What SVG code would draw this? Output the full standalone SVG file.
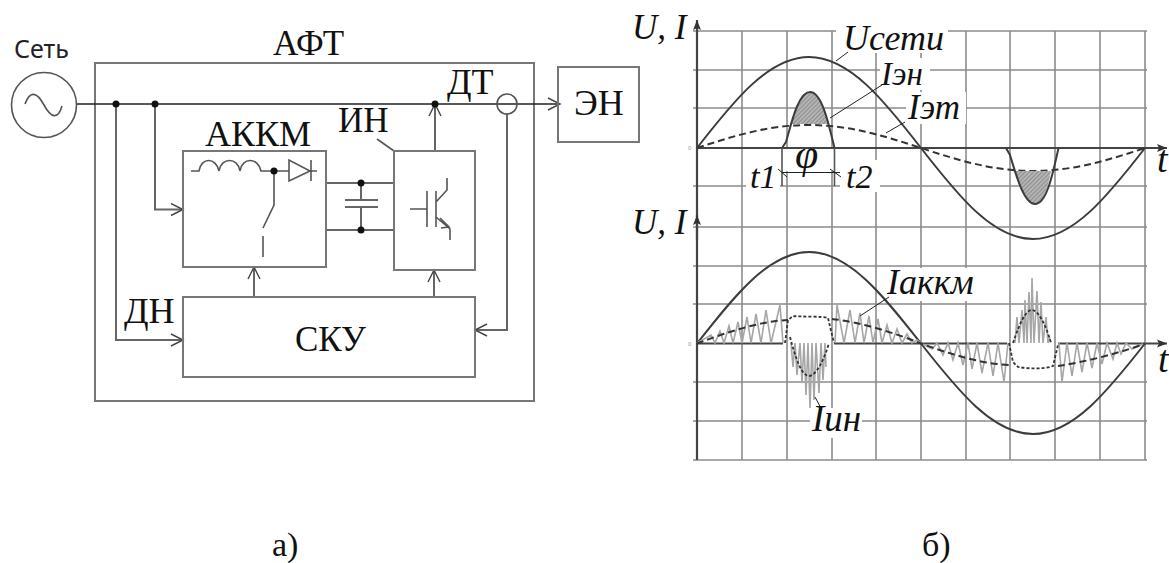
<svg xmlns="http://www.w3.org/2000/svg" width="1169" height="563" viewBox="0 0 1169 563">
<style>
.b{fill:none;stroke:#777;stroke-width:2}
.w{fill:none;stroke:#666;stroke-width:2}
.d{fill:none;stroke:#222;stroke-width:1.6}
.c{fill:none;stroke:#555;stroke-width:1.6}
.g{fill:none;stroke:#8c8c8c;stroke-width:1.6}
.cv{fill:none;stroke:#3c3c3c;stroke-width:2}
.ax{fill:none;stroke:#444;stroke-width:2.2}
.tri{fill:none;stroke:#a6a6a6;stroke-width:1.6}
.ds{fill:none;stroke:#333;stroke-width:2;stroke-dasharray:7 4}
.dt{fill:none;stroke:#333;stroke-width:1.8;stroke-dasharray:3 2}
.ln{fill:none;stroke:#222;stroke-width:1}
.dot{fill:#111}
.t{font-family:"Liberation Serif","Times New Roman",serif;fill:#111}
.i{font-family:"Liberation Serif","Times New Roman",serif;font-style:italic;fill:#111}
.m{fill:#fff}
</style>
<defs>
<marker id="a" markerUnits="userSpaceOnUse" markerWidth="16" markerHeight="16" refX="13" refY="7" orient="auto"><path d="M1 1L13 7L1 13" fill="none" stroke="#444" stroke-width="1.4"/></marker>
<marker id="f" markerUnits="userSpaceOnUse" markerWidth="12" markerHeight="10" refX="10" refY="5" orient="auto"><path d="M0 1L10 5L0 9L2 5Z" fill="#333"/></marker>
<pattern id="h" patternUnits="userSpaceOnUse" width="3" height="3" patternTransform="rotate(45)"><rect width="3" height="3" fill="#b4b4b4"/><rect width="1" height="3" fill="#8e8e8e"/></pattern>
</defs>
<rect width="1169" height="563" fill="#fff"/>

<g id="node-aft"><rect class="b" x="95" y="63" width="439" height="338"/><text class="t" x="273" y="55" font-size="35">АФТ</text></g>

<g id="connectors">
<path class="d" d="M77 104H435M435 104H560" marker-end="url(#a)"/>
<path class="w" d="M116 104V340H183" marker-end="url(#a)"/>
<path class="w" d="M155 104V209.500H183" marker-end="url(#a)"/>
<path class="w" d="M435 151V104" marker-end="url(#a)"/>
<path class="w" d="M254 297V267" marker-end="url(#a)"/>
<path class="w" d="M434 297V270" marker-end="url(#a)"/>
<path class="w" d="M507 114V330H475" marker-end="url(#a)"/>
<path class="w" d="M326 183H394M326 230H394M361 183V200M361 207V230"/>
<path class="w" d="M345 200H378M345 207H378"/>
<path class="c" d="M377 139L394 151"/>
<circle class="dot" cx="116" cy="104" r="3.500"/><circle class="dot" cx="155" cy="104" r="3.500"/><circle class="dot" cx="435" cy="104" r="3.500"/>
<circle class="dot" cx="361" cy="183" r="3.500"/><circle class="dot" cx="361" cy="230" r="3.500"/>
</g>

<g id="node-grid"><circle class="c" cx="44" cy="105" r="32.500" fill="#fff"/><path class="c" d="M25 104C30 90 37 92 44 105C51 118 58 120 62 106"/><text x="14" y="58" font-family="Noto Sans,Open Sans,sans-serif" font-size="25" fill="#222">Сеть</text></g>

<g id="node-akkm"><rect class="b" x="183" y="151" width="143" height="116"/><text class="t" x="205" y="146" font-size="36">АККМ</text>
<path class="c" d="M191 171H199C201 157 216 157 219 171C221 157 238 157 240 171C242 157 258 157 261 171H289M289 160V181L310 171ZM310 171H317M311 160V181M274 171V205L263 228M263 236V257"/><circle class="dot" cx="274" cy="171" r="3.500"/></g>

<g id="node-in"><rect class="b" x="394" y="151" width="81" height="119"/><text class="t" x="338" y="132" font-size="35">ИН</text>
<path class="c" d="M410 209H427M427 191V227M436 191V227M436 202L447 190V178M436 217L450 229V240M440 218L449 227L441 228"/></g>

<g id="node-sku"><rect class="b" x="183" y="297" width="292" height="80"/><text class="t" x="295" y="351" font-size="35">СКУ</text></g>
<g id="node-dn"><text class="t" x="124" y="323" font-size="36">ДН</text></g>
<g id="node-dt"><circle class="c" cx="507" cy="104" r="10"/><text class="t" x="447" y="94" font-size="36">ДТ</text></g>
<g id="node-en"><rect class="b" x="558" y="67" width="81" height="75"/><text class="t" x="574" y="115" font-size="36">ЭН</text></g>

<g id="plot">
<path class="g" d="M742 31V460M787 31V460M832 31V460M876 31V460M921 31V460M966 31V460M1010 31V460M1055 31V460M1100 31V460M1145 31V460"/>
<path class="g" d="M693 31H1147M693 70H1147M693 108H1147M693 186H1147M693 227H1147M693 266H1147M693 304H1147M693 382H1147M693 421H1147M693 460H1147"/>
<rect class="m" x="836" y="22" width="112" height="31"/><rect class="m" x="880" y="58" width="50" height="32"/><rect class="m" x="906" y="92" width="60" height="32"/>
<rect class="m" x="746" y="160" width="34" height="32"/><rect class="m" x="840" y="160" width="40" height="32"/>
<rect class="m" x="784" y="149" width="50" height="22"/><rect class="m" x="630" y="205" width="60" height="35"/>
<rect class="m" x="888" y="268" width="88" height="33"/><rect class="m" x="810" y="408" width="52" height="30"/>
<path class="ax" d="M697 460V20" marker-end="url(#f)"/><path class="ax" d="M697 240V215" marker-end="url(#f)"/>
<path class="ax" d="M697 148H1167" marker-end="url(#f)"/>
<path class="cv" d="M697 148C733.500 101 768.500 57 809 57C849.500 57 884.500 101 921 148C957.500 195 992.500 239 1033 239C1073.500 239 1108.500 195 1145 148"/>
<path class="ds" d="M697 148C733.500 136 768.500 125 809 125C849.500 125 884.500 136 921 148C957.500 160 992.500 171 1033 171C1073.500 171 1108.500 160 1145 148"/>
<path d="M791 124C796 107 802 92 810 92C818 92 824 107 829 124Z" fill="url(#h)"/>
<path d="M1015 171C1020 187 1027 204 1035 204C1043 204 1048 187 1051 171Z" fill="url(#h)"/>
<path class="cv" d="M782 148L786 142C791 125 798 92 810 92C822 92 829 125 834.500 148M1006 148L1010 155C1016 175 1024 204 1035 204C1046 204 1052 178 1058.500 148"/>
<path class="c" d="M782 148V186M834.500 148V186"/>
<path class="ln" d="M782 172.500H840M778 169L787 177M830 169L841 177M830 118L882 85M886 133L905 122M836 61L848 52"/>
<path class="ax" d="M697 343.500H783M834 343.500H1007M1058 343.500H1167" marker-end="url(#f)"/>
<path class="cv" d="M697 343.500C733.500 297 768.500 252 809 252C849.500 252 884.500 297 921 343.500C957.500 390 992.500 434 1033 434C1073.500 434 1108.500 390 1145 343.500"/>
<path class="tri" d="M697 343L711 335L715 343L720 331L724 343L729 326L733 343L738 322L742 343L747 317L751 343L756 314L761 343L766 310L771 343L780 305L783 343M835 343L837 305L844 343L850 310L855 343L860 313L864 343L869 316L873 343L878 319L882 343L887 325L892 343L897 329L902 343L907 334L912 343L917 340L921 343L932 349L937 343L943 355L948 343L953 360L958 343L963 365L968 343L972 369L977 343L982 373L988 343L993 376L998 343L1004 382L1008 343M1059 343L1062 382L1067 343L1072 376L1077 343L1082 372L1087 343L1092 368L1097 343L1102 364L1107 343L1113 359L1117 343L1121 354L1126 343L1132 349L1145 343"/>
<path class="tri" d="M791 343L793 367L795 343L797 375L800 343L802 383L804 343L806 395L808 343L810 408L812 343L814 400L816 343L819 393L821 343L823 380L825 343L826 367M1015 343L1017 317L1019 343L1022 310L1024 343L1025 300L1027 343L1029 292L1031 343L1032 278L1034 343L1037 291L1039 343L1041 302L1043 343L1046 317L1048 343L1050 337"/>
<path class="ds" stroke-dasharray="6 3" d="M697 343.500C725 333 760 321 788 320M832 319C860 322 895 333 921 343.500C950 354 985 365 1012 365M1058 366C1085 362 1120 353 1145 343.500"/>
<path class="dt" d="M785 343L788 320L793 316C802 317 822 316 828 318L834 343M1009 343L1013 362L1018 367C1030 369 1045 369 1053 366L1058 345"/>
<path class="dt" d="M790 337C796 360 802 376 809 376C816 376 824 360 829 343M1013 343C1020 322 1026 310 1032 310C1038 310 1046 325 1051 343"/>
<path class="ln" d="M860 316L889 297M815 397L822 410"/>
<text class="i" x="632" y="39" font-size="35">U, I</text>
<text class="i" x="843" y="50" font-size="36">Uсети</text>
<text class="i" x="881" y="85" font-size="33">Iэн</text>
<text class="i" x="908" y="119" font-size="35">Iэт</text>
<text class="i" x="795" y="168" font-size="42">φ</text>
<text class="i" x="750" y="188" font-size="34">t1</text>
<text class="i" x="846" y="188" font-size="34">t2</text>
<text class="i" x="1157" y="172" font-size="38">t</text>
<text class="i" x="632" y="234" font-size="35">U, I</text>
<text class="i" x="1158" y="372" font-size="38">t</text>
<text class="i" x="887" y="294" font-size="36">Iаккм</text>
<text class="i" x="812" y="431" font-size="37">Iин</text>
<text x="688" y="150" font-family="Liberation Sans,sans-serif" font-size="6" fill="#999">0</text>
<text x="688" y="346" font-family="Liberation Sans,sans-serif" font-size="6" fill="#999">0</text>
</g>
<text class="t" x="272" y="556" font-size="34">а)</text>
<text class="t" x="922" y="556" font-size="34">б)</text>
</svg>
